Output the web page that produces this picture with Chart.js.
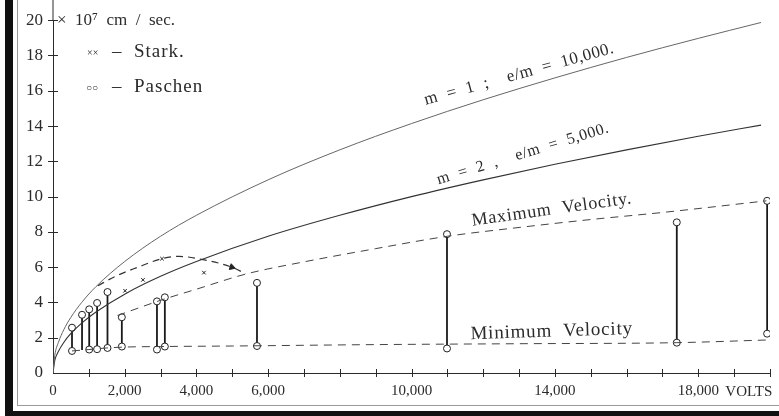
<!DOCTYPE html>
<html>
<head>
<meta charset="utf-8">
<script src="https://cdn.jsdelivr.net/npm/chart.js@4.4.1/dist/chart.umd.min.js"></script>
<style>
  html, body { margin: 0; padding: 0; background: #fff; }
</style>
</head>
<body>
<canvas id="velChart" width="779" height="416"></canvas>
<script>
// x = volts, y = velocity in 10^7 cm/sec
const curveVolts = [0, 50, 150, 300, 500, 800, 1200, 2000, 3000, 4000, 6000, 8000, 10000, 12000, 14000, 16000, 18000, 19750];
const curveM1 = [0, 1.0, 1.73, 2.45, 3.16, 4.0, 4.9, 6.32, 7.75, 8.94, 10.95, 12.65, 14.14, 15.49, 16.73, 17.89, 18.97, 19.87];
const curveM2 = [0, 0.71, 1.22, 1.73, 2.24, 2.83, 3.46, 4.47, 5.48, 6.32, 7.75, 8.94, 10.0, 10.95, 11.83, 12.65, 13.42, 14.05];

const maxVolts = [1800, 3000, 4000, 5400, 7000, 9000, 11000, 13000, 15000, 17000, 19900];
const maxVel = [3.26, 4.12, 4.75, 5.62, 6.3, 7.05, 7.75, 8.25, 8.7, 9.1, 9.76];

const minVolts = [530, 1000, 1500, 2000, 3000, 5000, 9000, 13000, 17400, 19900];
const minVel = [1.25, 1.33, 1.42, 1.47, 1.5, 1.53, 1.61, 1.66, 1.72, 1.87];

const starkArcVolts = [1250, 1760, 2320, 3040, 3510, 4150, 4990, 5370];
const starkArcVel = [4.95, 5.5, 5.96, 6.48, 6.61, 6.44, 6.0, 5.63];

const starkVolts = [2010, 2510, 3040, 4210];
const starkVel = [4.66, 5.28, 6.48, 5.69];

const paschenVolts = [530, 810, 1010, 1230, 1520, 1920, 2900, 3120, 5690, 10990, 17400, 19920];
const paschenMin = [1.25, 1.30, 1.33, 1.35, 1.42, 1.50, 1.33, 1.50, 1.53, 1.39, 1.72, 2.23];
const paschenMax = [2.57, 3.30, 3.61, 3.97, 4.59, 3.16, 4.06, 4.29, 5.11, 7.87, 8.54, 9.76];
// the second reading has no circle drawn at its lower end
const paschenMinCircle = [1, 0, 1, 1, 1, 1, 1, 1, 1, 1, 1, 1];

const xLabels = [0, 2000, 4000, 6000, 10000, 14000, 18000];

const ink = '#2b2b2b';
const serif = '"Liberation Serif", "DejaVu Serif", serif';

function pts(xs, ys) {
  return xs.map((x, i) => ({ x: x, y: ys[i] }));
}

// each Paschen pair: bottom, top, gap
const paschenPts = [];
paschenVolts.forEach((v, i) => {
  paschenPts.push({ x: v, y: paschenMin[i], mark: paschenMinCircle[i] });
  paschenPts.push({ x: v, y: paschenMax[i], mark: 1 });
  paschenPts.push({ x: v, y: null, mark: 0 });
});

function put(ctx, chart, text, vx, vy, deg, font, spacing) {
  const x = chart.scales.x.getPixelForValue(vx);
  const y = chart.scales.y.getPixelForValue(vy);
  ctx.save();
  ctx.translate(x, y);
  ctx.rotate(deg * Math.PI / 180);
  ctx.font = font;
  ctx.letterSpacing = (spacing || 0) + 'px';
  ctx.fillStyle = ink;
  ctx.textAlign = 'left';
  ctx.textBaseline = 'alphabetic';
  ctx.fillText(text, 0, 0);
  ctx.restore();
}

const paperPlugin = {
  id: 'paper',
  beforeDraw(chart) {
    const ctx = chart.ctx;
    ctx.save();
    ctx.fillStyle = '#fff';
    ctx.fillRect(0, 0, chart.width, chart.height);
    // scan frame
    ctx.fillStyle = '#111';
    ctx.fillRect(5, 0, 8, 416);
    ctx.fillRect(5, 411, 774, 5);
    ctx.strokeStyle = '#999';
    ctx.lineWidth = 1;
    ctx.beginPath();
    ctx.moveTo(17.5, 0);
    ctx.lineTo(17.5, 406);
    ctx.moveTo(17, 405.5);
    ctx.lineTo(779, 405.5);
    ctx.stroke();
    ctx.restore();
  },
  afterDraw(chart) {
    const ctx = chart.ctx;
    const xs = chart.scales.x, ys = chart.scales.y;
    const x0 = xs.getPixelForValue(0), y0 = ys.getPixelForValue(0);
    ctx.save();
    ctx.strokeStyle = ink;
    ctx.lineWidth = 1;
    ctx.beginPath();
    // y axis up to the top edge
    ctx.moveTo(x0, 0);
    ctx.lineTo(x0, chart.chartArea.top);
    // crossing ticks
    for (let v = 1000; v <= 20000; v += 1000) {
      const px = Math.round(xs.getPixelForValue(v)) + 0.5;
      ctx.moveTo(px, y0 - 4);
      ctx.lineTo(px, y0 + 4);
    }
    for (let v = 2; v <= 20; v += 2) {
      const py = Math.round(ys.getPixelForValue(v)) + 0.5;
      ctx.moveTo(x0 - 5, py);
      ctx.lineTo(x0 + 5, py);
    }
    ctx.stroke();

    ctx.fillStyle = ink;
    ctx.textBaseline = 'middle';
    ctx.font = '17px ' + serif;
    ctx.fillText('×  10⁷  cm  /  sec.', x0 + 4, ys.getPixelForValue(20));

    // legend
    ctx.font = '10px ' + serif;
    ctx.fillText('××', 87, 53);
    ctx.fillText('○○', 86, 88);
    ctx.font = '19px ' + serif;
    ctx.letterSpacing = '1px';
    ctx.fillText('–  Stark.', 112, 52);
    ctx.fillText('–  Paschen', 112, 87);

    ctx.letterSpacing = '0px';
    ctx.font = '15px ' + serif;
    ctx.textBaseline = 'top';
    ctx.fillText('VOLTS', xs.getPixelForValue(18000) + 27, y0 + 12);

    put(ctx, chart, 'm  =  1  ;    e/m  =  10,000.', 10400, 15.2, -15.5, '17px ' + serif, 0.5);
    put(ctx, chart, 'm  =  2  ,    e/m  =  5,000.', 10750, 10.7, -17, '16px ' + serif, 0.6);
    put(ctx, chart, 'Maximum  Velocity.', 11700, 8.35, -8, '18px ' + serif, 0.8);
    put(ctx, chart, 'Minimum  Velocity', 11650, 1.92, -1.8, '19px ' + serif, 0.8);
    ctx.restore();
  }
};

const ctxVel = document.getElementById('velChart').getContext('2d');

const velChart = new Chart(ctxVel, {
  type: 'scatter',
  data: {
    datasets: [
      {
        label: 'm = 1',
        data: pts(curveVolts, curveM1),
        showLine: true,
        borderColor: '#666',
        borderWidth: 1,
        pointRadius: 0,
        cubicInterpolationMode: 'monotone'
      },
      {
        label: 'm = 2',
        data: pts(curveVolts, curveM2),
        showLine: true,
        borderColor: '#333',
        borderWidth: 1.1,
        pointRadius: 0,
        cubicInterpolationMode: 'monotone'
      },
      {
        label: 'Maximum Velocity',
        data: pts(maxVolts, maxVel),
        showLine: true,
        borderColor: '#444',
        borderWidth: 1,
        borderDash: [8, 6],
        pointRadius: 0,
        cubicInterpolationMode: 'monotone'
      },
      {
        label: 'Minimum Velocity',
        data: pts(minVolts, minVel),
        showLine: true,
        borderColor: '#444',
        borderWidth: 1,
        borderDash: [8, 6],
        pointRadius: 0,
        cubicInterpolationMode: 'monotone'
      },
      {
        label: 'Stark arc',
        data: pts(starkArcVolts, starkArcVel),
        showLine: true,
        borderColor: '#333',
        borderWidth: 1.2,
        borderDash: [7, 5],
        pointRadius: 0,
        cubicInterpolationMode: 'monotone'
      },
      {
        label: 'arrow',
        data: [{ x: 4990, y: 6.0 }],
        pointStyle: 'triangle',
        rotation: 108,
        pointRadius: 3.5,
        backgroundColor: '#222',
        borderColor: '#222'
      },
      {
        label: 'Stark',
        data: pts(starkVolts, starkVel),
        pointStyle: 'crossRot',
        pointRadius: 2.5,
        borderColor: '#222',
        borderWidth: 1
      },
      {
        label: 'Paschen',
        data: paschenPts,
        showLine: true,
        spanGaps: false,
        borderColor: '#1a1a1a',
        borderWidth: 1.8,
        pointRadius: c => (c.raw && c.raw.mark) ? 3.5 : 0,
        pointBorderWidth: 1,
        pointBackgroundColor: '#fff',
        pointBorderColor: '#222'
      }
    ]
  },
  options: {
    responsive: false,
    animation: false,
    devicePixelRatio: 1,
    layout: { padding: { top: 17, right: 6, left: 0, bottom: 0 } },
    plugins: {
      legend: { display: false },
      tooltip: { enabled: false }
    },
    scales: {
      x: {
        type: 'linear',
        min: 0,
        max: 20000,
        afterFit: s => { s.height = 43; },
        grid: { drawOnChartArea: false, drawTicks: false },
        border: { color: ink, width: 1 },
        ticks: {
          stepSize: 1000,
          autoSkip: false,
          maxRotation: 0,
          padding: 9,
          color: ink,
          font: { family: serif, size: 15 },
          callback: v => xLabels.includes(v) ? v.toLocaleString('en-US') : ''
        }
      },
      y: {
        min: 0,
        max: 20,
        afterFit: s => { s.width = 53; },
        grid: { drawOnChartArea: false, drawTicks: false },
        border: { color: ink, width: 1 },
        ticks: {
          stepSize: 2,
          padding: 10,
          color: ink,
          font: { family: serif, size: 17 }
        }
      }
    }
  },
  plugins: [paperPlugin]
});
</script>
</body>
</html>
